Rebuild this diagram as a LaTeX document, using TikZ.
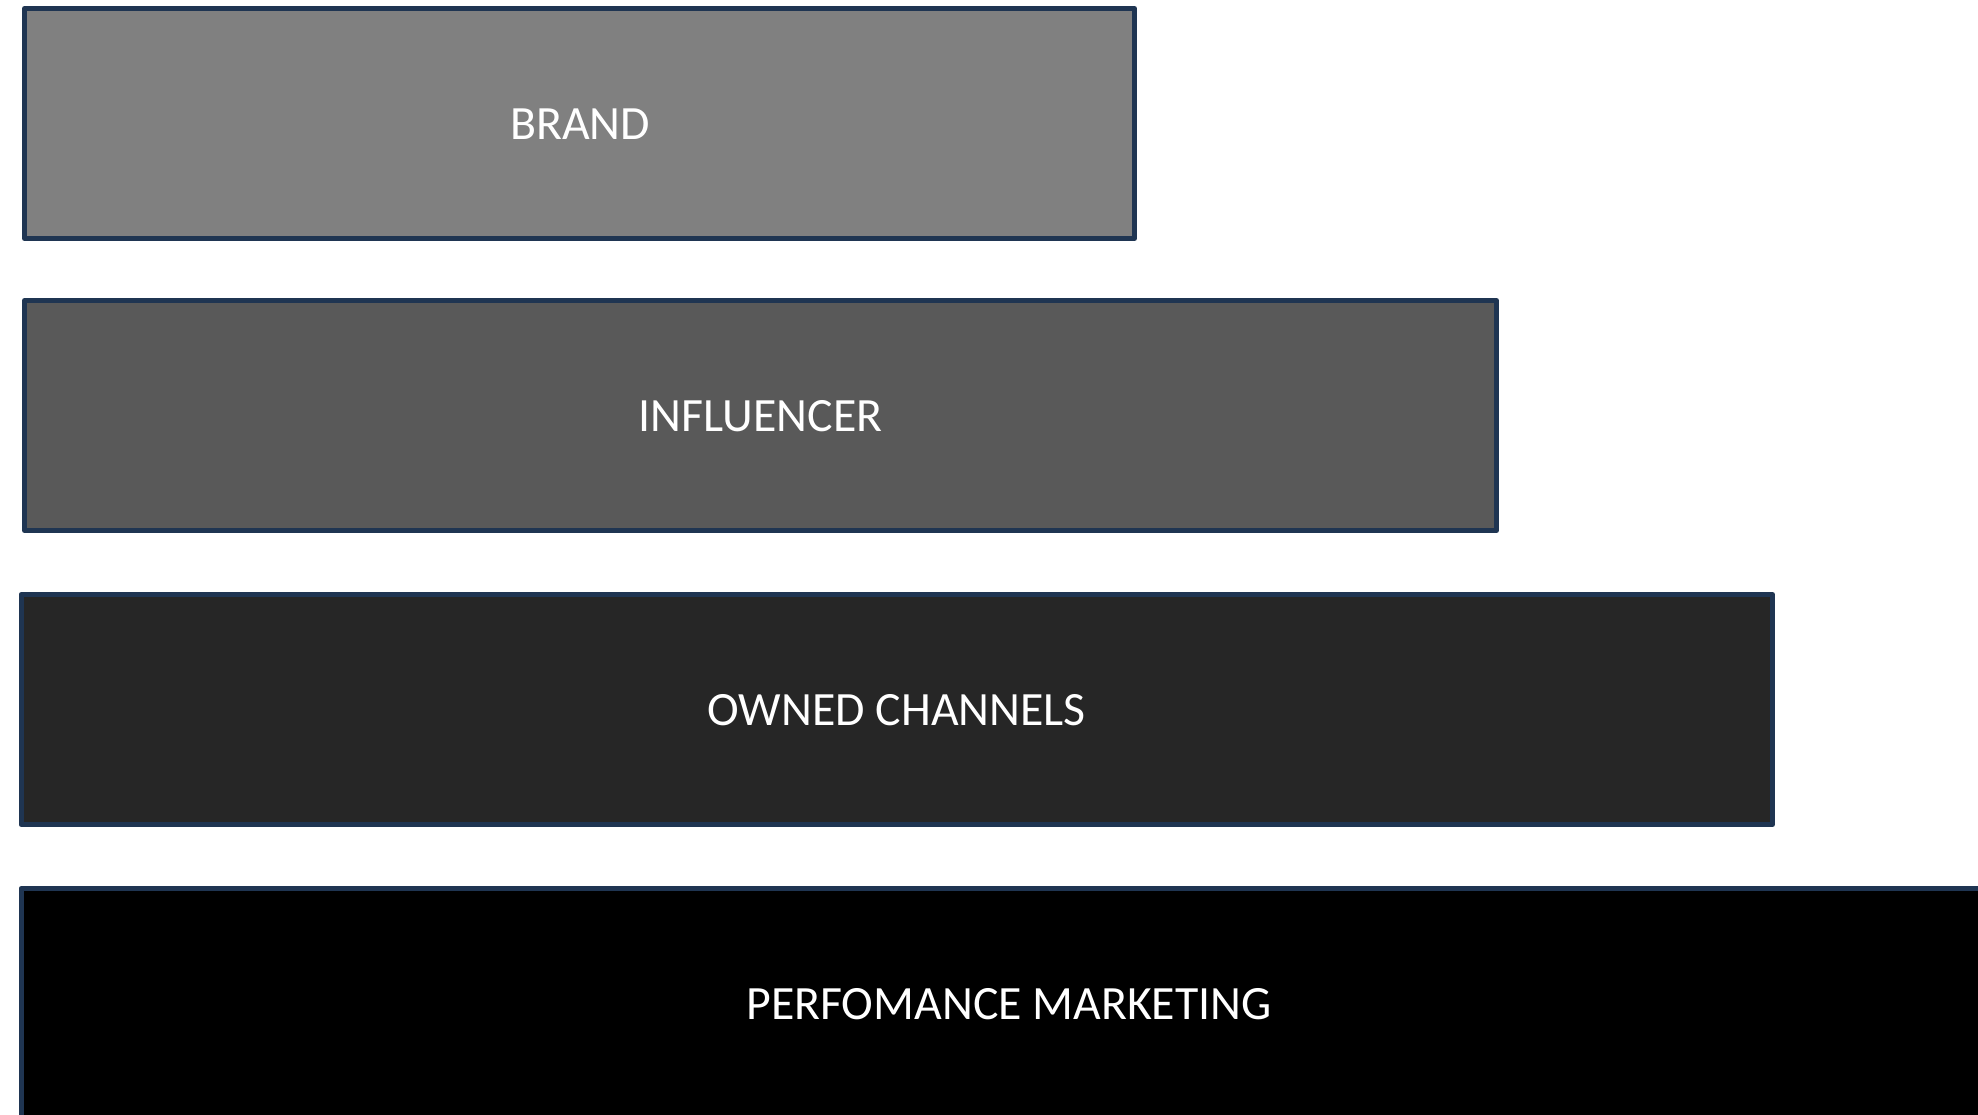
\documentclass[tikz,border=0pt]{standalone}
\usepackage{fontspec}
\setmainfont{Carlito}
\definecolor{edge}{HTML}{1F3552}
\definecolor{tierA}{HTML}{808080}
\definecolor{tierB}{HTML}{595959}
\definecolor{tierC}{HTML}{262626}
\definecolor{tierD}{HTML}{000000}
\begin{document}
\begin{tikzpicture}[x=1pt,y=-1pt,
  tier/.style={draw=edge,line width=5pt,line join=round},
  label/.style={text=white,font=\fontsize{47.8}{56}\selectfont,inner sep=0pt}]
\useasboundingbox (0,0) rectangle (1978,1114);
\begin{scope}
\clip (0,0) rectangle (1978,1114);
\draw[tier,fill=tierA] (24.5,8.5) rectangle (1134.5,238.5);
\draw[tier,fill=tierB] (24.5,300.5) rectangle (1496.5,530.5);
\draw[tier,fill=tierC] (21,594.5) rectangle (1772.5,824.5);
\draw[tier,fill=tierD] (21,888.5) rectangle (1997,1118.5);
\end{scope}
\node[label] (brand) at (580,124.5) {BRAND};
\node[label] (influencer) at (760.5,416.5) {INFLUENCER};
\node[label] (owned) at (896.75,710.5) {OWNED CHANNELS};
\node[label] (perf) at (1009,1004.5) {PERFOMANCE MARKETING};
\end{tikzpicture}
\end{document}
